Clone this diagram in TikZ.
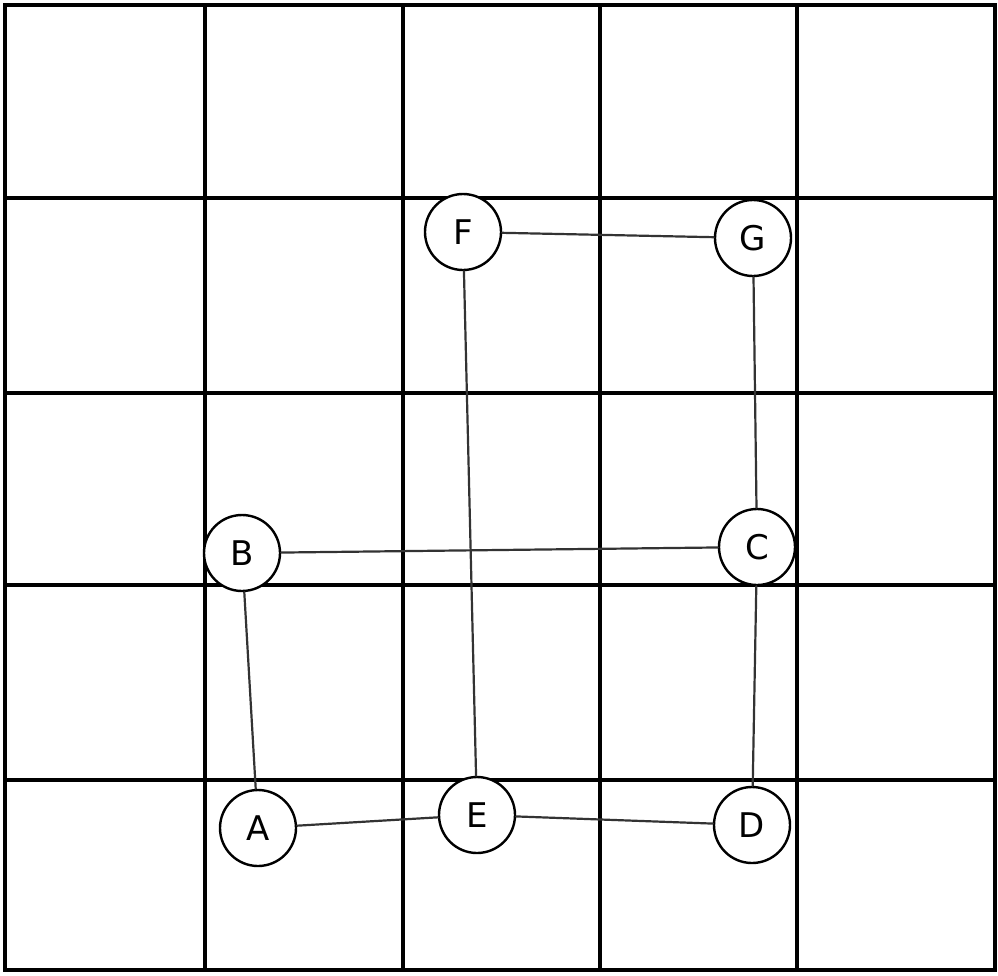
\documentclass[tikz,border=0pt]{standalone}
\usepackage{fontspec}
\setsansfont{DejaVu Sans}
\begin{document}
\begin{tikzpicture}[x=1pt,y=-1pt]
\tikzset{
  gridline/.style={draw=black,line width=3.4pt},
  graphnode/.style={circle,draw=black,line width=2.4pt,minimum size=76pt,inner sep=1pt,font=\sffamily\fontsize{34}{34}\selectfont,fill=white},
  graphedge/.style={draw=black!80,line width=2.2pt,line cap=round}
}
\useasboundingbox (0,0) rectangle (998,975);
\draw[gridline] (5,5) rectangle (995,970);
\draw[gridline] (205,5) -- (205,970);
\draw[gridline] (403,5) -- (403,970);
\draw[gridline] (600,5) -- (600,970);
\draw[gridline] (797,5) -- (797,970);
\draw[gridline] (5,198) -- (995,198);
\draw[gridline] (5,393) -- (995,393);
\draw[gridline] (5,585) -- (995,585);
\draw[gridline] (5,780) -- (995,780);
\node[graphnode] (n_F) at (463,232) {F};
\node[graphnode] (n_G) at (753,238) {G};
\node[graphnode] (n_B) at (242,553) {B};
\node[graphnode] (n_C) at (757,547) {C};
\node[graphnode] (n_A) at (258,828) {A};
\node[graphnode] (n_E) at (477,815) {E};
\node[graphnode] (n_D) at (752,825) {D};
\draw[graphedge] (n_F) -- (n_G);
\draw[graphedge] (n_F) -- (n_E);
\draw[graphedge] (n_G) -- (n_C);
\draw[graphedge] (n_B) -- (n_C);
\draw[graphedge] (n_B) -- (n_A);
\draw[graphedge] (n_C) -- (n_D);
\draw[graphedge] (n_A) -- (n_E);
\draw[graphedge] (n_E) -- (n_D);
\end{tikzpicture}
\end{document}
